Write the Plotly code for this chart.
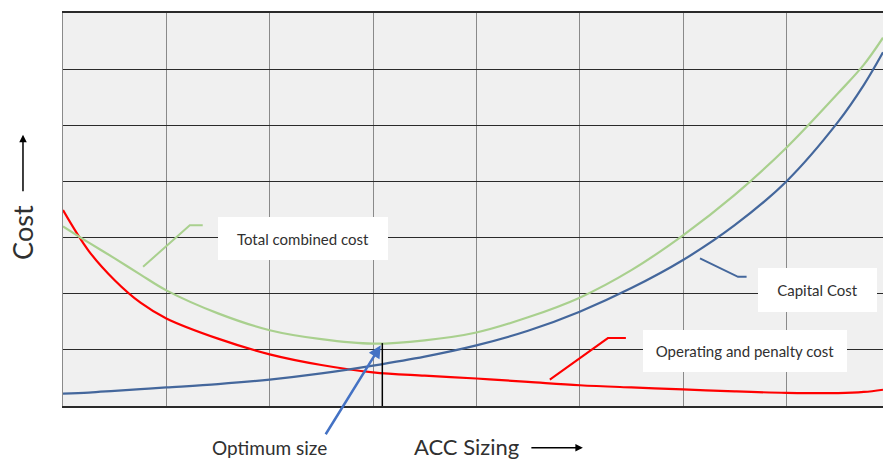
import plotly.graph_objects as go

# ---- data (grid units: x = sizing, y = cost) ----
sizing = [0, 0.25, 0.5, 0.75, 1, 1.5, 2, 2.5, 3, 3.5, 4, 4.5, 5, 5.5, 6, 6.5, 7, 7.5, 7.75, 7.935]
operating_cost = [3.49, 2.76, 2.24, 1.84, 1.56, 1.20, 0.92, 0.73, 0.60, 0.54, 0.49, 0.43, 0.37,
                  0.33, 0.295, 0.26, 0.235, 0.23, 0.25, 0.29]
capital_cost = [0.22, 0.24, 0.27, 0.30, 0.33, 0.39, 0.47, 0.58, 0.72, 0.88, 1.08, 1.34, 1.68,
                2.10, 2.60, 3.22, 4.00, 5.06, 5.72, 6.30]
total_cost = [3.20, 2.91, 2.63, 2.34, 2.06, 1.65, 1.35, 1.19, 1.11, 1.17, 1.31, 1.58, 1.93,
              2.42, 3.04, 3.76, 4.60, 5.57, 6.08, 6.56]
optimum_x = 3.09
optimum_cost = 1.12

series_names = ["Operating and penalty cost", "Capital Cost", "Total combined cost"]
series_colors = ["#ff0000", "#44679c", "#a9d08e"]

X_MAX = 7.935
Y_MAX = 7
FONT = "Lato, 'Open Sans', sans-serif"
TXT = "#303030"

fig = go.Figure()
for name, vals, col in zip(series_names, [operating_cost, capital_cost, total_cost], series_colors):
    fig.add_trace(go.Scatter(x=sizing, y=vals, mode="lines", name=name,
                             line=dict(color=col, width=2.2, shape="spline", smoothing=1.0),
                             hoverinfo="skip"))

# optimum marker line
fig.add_trace(go.Scatter(x=[optimum_x, optimum_x], y=[0, optimum_cost], mode="lines",
                         line=dict(color="#000000", width=1.5), hoverinfo="skip", showlegend=False))

# leader lines for labels
leaders = [
    ([0.775, 1.227, 1.352], [2.48, 3.22, 3.22], series_colors[2]),
    ([6.164, 6.532, 6.615], [2.63, 2.30, 2.30], series_colors[1]),
    ([4.711, 5.273, 5.447], [0.47, 1.21, 1.21], series_colors[0]),
]
for lx, ly, col in leaders:
    fig.add_trace(go.Scatter(x=lx, y=ly, mode="lines", line=dict(color=col, width=2),
                             hoverinfo="skip", showlegend=False))

# label boxes
boxes = [
    (2.320, 2.982, 170, 43, "Total combined cost"),
    (7.301, 2.062, 119, 44, "Capital Cost"),
    (6.599, 0.973, 204, 42, "Operating and penalty cost"),
]
for bx, by, w, h, t in boxes:
    fig.add_annotation(x=bx, y=by, xref="x", yref="y", text=t, showarrow=False,
                       width=w, height=h, bgcolor="#ffffff", borderwidth=0, borderpad=0,
                       font=dict(family=FONT, size=15, color=TXT))

# Optimum size text and arrow
fig.add_annotation(x=0.252, y=-0.106, xref="paper", yref="paper", text="Optimum size",
                   showarrow=False, xanchor="center", yanchor="middle",
                   font=dict(family=FONT, size=19, color=TXT))
fig.add_annotation(x=3.075, y=1.08, xref="x", yref="y", ax=2.533, ay=-0.53, axref="x", ayref="y",
                   text="", showarrow=True, arrowhead=2, arrowsize=1, arrowwidth=2.5,
                   arrowcolor="#4472c4")

# x axis title + arrow
fig.add_annotation(x=0.4926, y=-0.103, xref="paper", yref="paper", text="ACC Sizing",
                   showarrow=False, xanchor="center", yanchor="middle",
                   font=dict(family=FONT, size=22, color=TXT))
fig.add_annotation(x=0.634, y=-0.106, xref="paper", yref="paper", ax=-53, ay=0,
                   text="", showarrow=True, arrowhead=2, arrowsize=1, arrowwidth=1.5,
                   arrowcolor="#000000")

# y axis title + arrow
fig.add_annotation(x=-0.0488, y=0.443, xref="paper", yref="paper", text="Cost", textangle=-90,
                   showarrow=False, xanchor="center", yanchor="middle",
                   font=dict(family=FONT, size=27, color=TXT))
fig.add_annotation(x=-0.0488, y=0.69, xref="paper", yref="paper", ax=0, ay=58,
                   text="", showarrow=True, arrowhead=2, arrowsize=1, arrowwidth=1.5,
                   arrowcolor="#000000")

fig.update_layout(
    width=883, height=459,
    margin=dict(l=63, r=0, t=13, b=53),
    paper_bgcolor="#ffffff", plot_bgcolor="#f0f0f0",
    showlegend=False,
    xaxis=dict(range=[0, X_MAX], tickvals=list(range(0, 8)), showticklabels=False, ticks="",
               showgrid=True, gridcolor="#8a8a8a", gridwidth=1.3, zeroline=False,
               showline=True, linecolor="#2a2a2a", linewidth=1.5, mirror=True, fixedrange=True),
    yaxis=dict(range=[0, Y_MAX], tickvals=list(range(0, 8)), showticklabels=False, ticks="",
               showgrid=True, gridcolor="#2a2a2a", gridwidth=1.3, zeroline=False,
               showline=True, linecolor="#8a8a8a", linewidth=1.3, mirror=False, fixedrange=True),
)

fig.write_html("out.html", config={"displayModeBar": False},
               post_script="document.body.style.margin='0px';document.body.style.overflow='hidden';")
